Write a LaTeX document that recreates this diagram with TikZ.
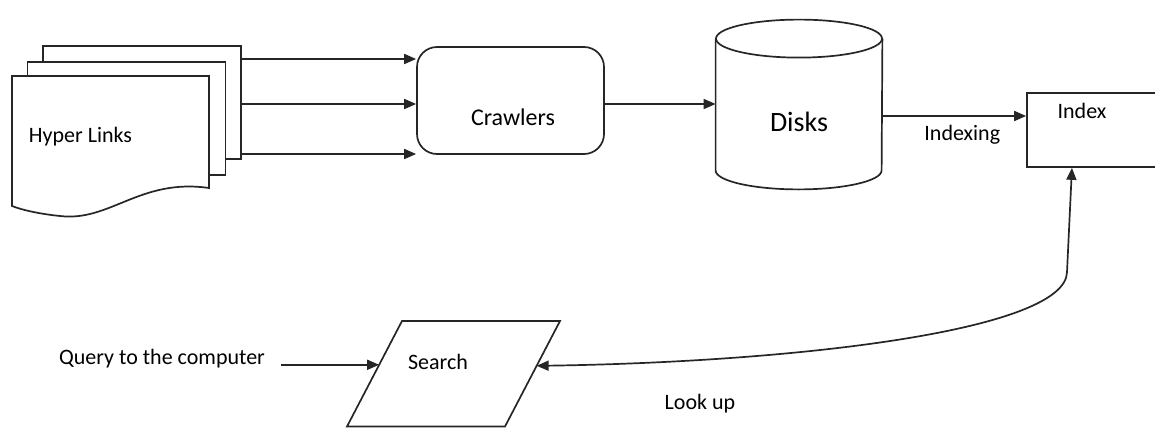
\documentclass[tikz,border=0pt]{standalone}
\usepackage{fontspec}
\setmainfont{Carlito}
\usetikzlibrary{arrows.meta, calc}

\begin{document}
\begin{tikzpicture}[
        x=0.5pt, y=-0.5pt,
        line/.style={draw=black!85, line width=0.85pt},
        sheet/.style={line, fill=white, rectangle, minimum width=99pt, minimum height=56.5pt},
        txt/.style={font=\fontsize{11}{13}\selectfont, inner sep=2pt},
        arr/.style={line, -{Triangle[length=6pt, width=5pt]}},
        dblarr/.style={line, {Triangle[length=6pt, width=5pt]}-{Triangle[length=6pt, width=5pt]}}
    ]
    \useasboundingbox (0,0) rectangle (1155,428);
    % stack of pages
    \node[sheet] (page3) at (142,102.5) {};
    \node[sheet] (page2) at (126.5,118.5) {};
    \draw[line, fill=white] (12,76) -- (209,76) -- (209,188)
        .. controls (140,178) and (110,222) .. (60,216)
        .. controls (40,214) and (22,210) .. (12,206) -- cycle;
    \node[txt] (links) at (80.5,137) {Hyper Links};
    % crawlers
    \node[line, rounded corners=10pt, minimum width=93.5pt, minimum height=53.5pt] (crawl) at (510.5,100.5) {};
    \node[txt, font=\fontsize{12}{14}\selectfont] (crawltxt) at (513,117) {Crawlers};
    % disks
    \node[minimum width=83pt, minimum height=65.5pt, inner sep=0pt] (disk) at (799,104.5) {};
    \draw[line, fill=white] (disk.north west) -- (disk.south west)
        arc[start angle=180, end angle=360, x radius=41.5pt, y radius=9.5pt] -- (disk.north east);
    \draw[line] (disk.north) ellipse [x radius=41.5pt, y radius=9.5pt];
    \node[txt, font=\fontsize{14}{16}\selectfont] (disktxt) at (799,122) {Disks};
    % index
    \node[line, minimum width=66.5pt, minimum height=37pt] (index) at (1093.5,130) {};
    \node[txt] (indextxt) at (1082,111) {Index};
    % search
    \coordinate (sA) at (402,321);
    \coordinate (sB) at (560,321);
    \coordinate (sC) at (505,426.5);
    \coordinate (sD) at (347,426.5);
    \draw[line] (sA) -- (sB) -- (sC) -- (sD) -- cycle;
    \node[txt] (search) at (438,362) {Search};
    \coordinate (srchL) at ($(sA)!0.415!(sD)$);
    \coordinate (srchR) at ($(sB)!0.425!(sC)$);
    \node[txt] (query) at (162,359) {Query to the computer};
    \node[txt] (lookup) at (700,404) {Look up};
    \coordinate (ixS) at ($(index.south west)!0.34!(index.south east)$);
    % connectors
    \foreach \yy in {59,104,154}
        \draw[arr] (page3.east |- 0,\yy) -- (crawl.west |- 0,\yy);
    \draw[arr] (crawl.east |- 0,104) -- (disk.west |- 0,104);
    \draw[arr] (disk.east |- 0,116) -- (index.west |- 0,116)
        node[txt, midway, below=2pt, xshift=4pt] (indexing) {Indexing};
    \draw[arr, shorten <=6pt] (query.east |- srchL) -- (srchL);
    \draw[dblarr] (srchR) .. controls (800,362) and (1066,330) .. (1067,272) -- (ixS);
\end{tikzpicture}
\end{document}
